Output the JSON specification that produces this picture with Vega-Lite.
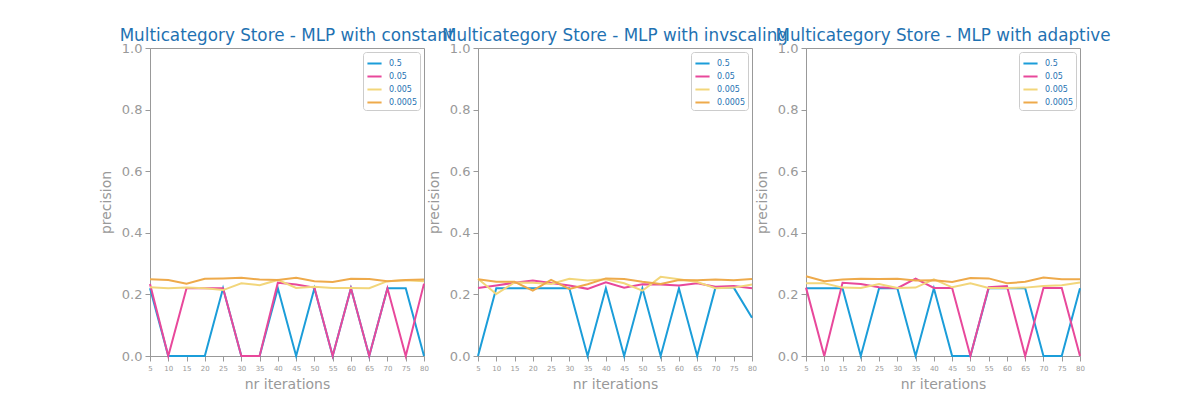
{
  "$schema": "https://vega.github.io/schema/vega-lite/v6.json",
  "padding": {"left": 98, "top": 27, "right": 5, "bottom": 5},
  "datasets": {
    "runs": [
      {"solver": "constant", "lr": "0.5", "iter": 5, "precision": 0.22},
      {"solver": "constant", "lr": "0.5", "iter": 10, "precision": 0.0},
      {"solver": "constant", "lr": "0.5", "iter": 15, "precision": 0.0},
      {"solver": "constant", "lr": "0.5", "iter": 20, "precision": 0.0},
      {"solver": "constant", "lr": "0.5", "iter": 25, "precision": 0.22},
      {"solver": "constant", "lr": "0.5", "iter": 30, "precision": 0.0},
      {"solver": "constant", "lr": "0.5", "iter": 35, "precision": 0.0},
      {"solver": "constant", "lr": "0.5", "iter": 40, "precision": 0.22},
      {"solver": "constant", "lr": "0.5", "iter": 45, "precision": 0.0},
      {"solver": "constant", "lr": "0.5", "iter": 50, "precision": 0.22},
      {"solver": "constant", "lr": "0.5", "iter": 55, "precision": 0.0},
      {"solver": "constant", "lr": "0.5", "iter": 60, "precision": 0.22},
      {"solver": "constant", "lr": "0.5", "iter": 65, "precision": 0.0},
      {"solver": "constant", "lr": "0.5", "iter": 70, "precision": 0.22},
      {"solver": "constant", "lr": "0.5", "iter": 75, "precision": 0.22},
      {"solver": "constant", "lr": "0.5", "iter": 80, "precision": 0.0},
      {"solver": "constant", "lr": "0.05", "iter": 5, "precision": 0.234},
      {"solver": "constant", "lr": "0.05", "iter": 10, "precision": 0.0},
      {"solver": "constant", "lr": "0.05", "iter": 15, "precision": 0.22},
      {"solver": "constant", "lr": "0.05", "iter": 20, "precision": 0.22},
      {"solver": "constant", "lr": "0.05", "iter": 25, "precision": 0.22},
      {"solver": "constant", "lr": "0.05", "iter": 30, "precision": 0.0},
      {"solver": "constant", "lr": "0.05", "iter": 35, "precision": 0.0},
      {"solver": "constant", "lr": "0.05", "iter": 40, "precision": 0.238},
      {"solver": "constant", "lr": "0.05", "iter": 45, "precision": 0.232},
      {"solver": "constant", "lr": "0.05", "iter": 50, "precision": 0.222},
      {"solver": "constant", "lr": "0.05", "iter": 55, "precision": 0.0},
      {"solver": "constant", "lr": "0.05", "iter": 60, "precision": 0.22},
      {"solver": "constant", "lr": "0.05", "iter": 65, "precision": 0.0},
      {"solver": "constant", "lr": "0.05", "iter": 70, "precision": 0.22},
      {"solver": "constant", "lr": "0.05", "iter": 75, "precision": 0.0},
      {"solver": "constant", "lr": "0.05", "iter": 80, "precision": 0.235},
      {"solver": "constant", "lr": "0.005", "iter": 5, "precision": 0.223},
      {"solver": "constant", "lr": "0.005", "iter": 10, "precision": 0.22},
      {"solver": "constant", "lr": "0.005", "iter": 15, "precision": 0.222},
      {"solver": "constant", "lr": "0.005", "iter": 20, "precision": 0.22},
      {"solver": "constant", "lr": "0.005", "iter": 25, "precision": 0.214},
      {"solver": "constant", "lr": "0.005", "iter": 30, "precision": 0.236},
      {"solver": "constant", "lr": "0.005", "iter": 35, "precision": 0.23},
      {"solver": "constant", "lr": "0.005", "iter": 40, "precision": 0.247},
      {"solver": "constant", "lr": "0.005", "iter": 45, "precision": 0.221},
      {"solver": "constant", "lr": "0.005", "iter": 50, "precision": 0.225},
      {"solver": "constant", "lr": "0.005", "iter": 55, "precision": 0.221},
      {"solver": "constant", "lr": "0.005", "iter": 60, "precision": 0.221},
      {"solver": "constant", "lr": "0.005", "iter": 65, "precision": 0.22},
      {"solver": "constant", "lr": "0.005", "iter": 70, "precision": 0.243},
      {"solver": "constant", "lr": "0.005", "iter": 75, "precision": 0.246},
      {"solver": "constant", "lr": "0.005", "iter": 80, "precision": 0.243},
      {"solver": "constant", "lr": "0.0005", "iter": 5, "precision": 0.249},
      {"solver": "constant", "lr": "0.0005", "iter": 10, "precision": 0.247},
      {"solver": "constant", "lr": "0.0005", "iter": 15, "precision": 0.235},
      {"solver": "constant", "lr": "0.0005", "iter": 20, "precision": 0.251},
      {"solver": "constant", "lr": "0.0005", "iter": 25, "precision": 0.252},
      {"solver": "constant", "lr": "0.0005", "iter": 30, "precision": 0.254},
      {"solver": "constant", "lr": "0.0005", "iter": 35, "precision": 0.248},
      {"solver": "constant", "lr": "0.0005", "iter": 40, "precision": 0.247},
      {"solver": "constant", "lr": "0.0005", "iter": 45, "precision": 0.254},
      {"solver": "constant", "lr": "0.0005", "iter": 50, "precision": 0.243},
      {"solver": "constant", "lr": "0.0005", "iter": 55, "precision": 0.24},
      {"solver": "constant", "lr": "0.0005", "iter": 60, "precision": 0.251},
      {"solver": "constant", "lr": "0.0005", "iter": 65, "precision": 0.25},
      {"solver": "constant", "lr": "0.0005", "iter": 70, "precision": 0.243},
      {"solver": "constant", "lr": "0.0005", "iter": 75, "precision": 0.247},
      {"solver": "constant", "lr": "0.0005", "iter": 80, "precision": 0.248},
      {"solver": "invscaling", "lr": "0.5", "iter": 5, "precision": 0.0},
      {"solver": "invscaling", "lr": "0.5", "iter": 10, "precision": 0.22},
      {"solver": "invscaling", "lr": "0.5", "iter": 15, "precision": 0.22},
      {"solver": "invscaling", "lr": "0.5", "iter": 20, "precision": 0.22},
      {"solver": "invscaling", "lr": "0.5", "iter": 25, "precision": 0.22},
      {"solver": "invscaling", "lr": "0.5", "iter": 30, "precision": 0.22},
      {"solver": "invscaling", "lr": "0.5", "iter": 35, "precision": 0.0},
      {"solver": "invscaling", "lr": "0.5", "iter": 40, "precision": 0.22},
      {"solver": "invscaling", "lr": "0.5", "iter": 45, "precision": 0.0},
      {"solver": "invscaling", "lr": "0.5", "iter": 50, "precision": 0.22},
      {"solver": "invscaling", "lr": "0.5", "iter": 55, "precision": 0.0},
      {"solver": "invscaling", "lr": "0.5", "iter": 60, "precision": 0.22},
      {"solver": "invscaling", "lr": "0.5", "iter": 65, "precision": 0.0},
      {"solver": "invscaling", "lr": "0.5", "iter": 70, "precision": 0.222},
      {"solver": "invscaling", "lr": "0.5", "iter": 75, "precision": 0.222},
      {"solver": "invscaling", "lr": "0.5", "iter": 80, "precision": 0.124},
      {"solver": "invscaling", "lr": "0.05", "iter": 5, "precision": 0.221},
      {"solver": "invscaling", "lr": "0.05", "iter": 10, "precision": 0.229},
      {"solver": "invscaling", "lr": "0.05", "iter": 15, "precision": 0.238},
      {"solver": "invscaling", "lr": "0.05", "iter": 20, "precision": 0.245},
      {"solver": "invscaling", "lr": "0.05", "iter": 25, "precision": 0.237},
      {"solver": "invscaling", "lr": "0.05", "iter": 30, "precision": 0.229},
      {"solver": "invscaling", "lr": "0.05", "iter": 35, "precision": 0.218},
      {"solver": "invscaling", "lr": "0.05", "iter": 40, "precision": 0.239},
      {"solver": "invscaling", "lr": "0.05", "iter": 45, "precision": 0.222},
      {"solver": "invscaling", "lr": "0.05", "iter": 50, "precision": 0.233},
      {"solver": "invscaling", "lr": "0.05", "iter": 55, "precision": 0.232},
      {"solver": "invscaling", "lr": "0.05", "iter": 60, "precision": 0.229},
      {"solver": "invscaling", "lr": "0.05", "iter": 65, "precision": 0.236},
      {"solver": "invscaling", "lr": "0.05", "iter": 70, "precision": 0.225},
      {"solver": "invscaling", "lr": "0.05", "iter": 75, "precision": 0.227},
      {"solver": "invscaling", "lr": "0.05", "iter": 80, "precision": 0.22},
      {"solver": "invscaling", "lr": "0.005", "iter": 5, "precision": 0.251},
      {"solver": "invscaling", "lr": "0.005", "iter": 10, "precision": 0.201},
      {"solver": "invscaling", "lr": "0.005", "iter": 15, "precision": 0.239},
      {"solver": "invscaling", "lr": "0.005", "iter": 20, "precision": 0.238},
      {"solver": "invscaling", "lr": "0.005", "iter": 25, "precision": 0.234},
      {"solver": "invscaling", "lr": "0.005", "iter": 30, "precision": 0.251},
      {"solver": "invscaling", "lr": "0.005", "iter": 35, "precision": 0.245},
      {"solver": "invscaling", "lr": "0.005", "iter": 40, "precision": 0.249},
      {"solver": "invscaling", "lr": "0.005", "iter": 45, "precision": 0.236},
      {"solver": "invscaling", "lr": "0.005", "iter": 50, "precision": 0.212},
      {"solver": "invscaling", "lr": "0.005", "iter": 55, "precision": 0.257},
      {"solver": "invscaling", "lr": "0.005", "iter": 60, "precision": 0.249},
      {"solver": "invscaling", "lr": "0.005", "iter": 65, "precision": 0.24},
      {"solver": "invscaling", "lr": "0.005", "iter": 70, "precision": 0.22},
      {"solver": "invscaling", "lr": "0.005", "iter": 75, "precision": 0.222},
      {"solver": "invscaling", "lr": "0.005", "iter": 80, "precision": 0.232},
      {"solver": "invscaling", "lr": "0.0005", "iter": 5, "precision": 0.249},
      {"solver": "invscaling", "lr": "0.0005", "iter": 10, "precision": 0.241},
      {"solver": "invscaling", "lr": "0.0005", "iter": 15, "precision": 0.241},
      {"solver": "invscaling", "lr": "0.0005", "iter": 20, "precision": 0.212},
      {"solver": "invscaling", "lr": "0.0005", "iter": 25, "precision": 0.247},
      {"solver": "invscaling", "lr": "0.0005", "iter": 30, "precision": 0.218},
      {"solver": "invscaling", "lr": "0.0005", "iter": 35, "precision": 0.233},
      {"solver": "invscaling", "lr": "0.0005", "iter": 40, "precision": 0.252},
      {"solver": "invscaling", "lr": "0.0005", "iter": 45, "precision": 0.25},
      {"solver": "invscaling", "lr": "0.0005", "iter": 50, "precision": 0.241},
      {"solver": "invscaling", "lr": "0.0005", "iter": 55, "precision": 0.234},
      {"solver": "invscaling", "lr": "0.0005", "iter": 60, "precision": 0.247},
      {"solver": "invscaling", "lr": "0.0005", "iter": 65, "precision": 0.246},
      {"solver": "invscaling", "lr": "0.0005", "iter": 70, "precision": 0.248},
      {"solver": "invscaling", "lr": "0.0005", "iter": 75, "precision": 0.246},
      {"solver": "invscaling", "lr": "0.0005", "iter": 80, "precision": 0.25},
      {"solver": "adaptive", "lr": "0.5", "iter": 5, "precision": 0.22},
      {"solver": "adaptive", "lr": "0.5", "iter": 10, "precision": 0.22},
      {"solver": "adaptive", "lr": "0.5", "iter": 15, "precision": 0.22},
      {"solver": "adaptive", "lr": "0.5", "iter": 20, "precision": 0.0},
      {"solver": "adaptive", "lr": "0.5", "iter": 25, "precision": 0.22},
      {"solver": "adaptive", "lr": "0.5", "iter": 30, "precision": 0.22},
      {"solver": "adaptive", "lr": "0.5", "iter": 35, "precision": 0.0},
      {"solver": "adaptive", "lr": "0.5", "iter": 40, "precision": 0.22},
      {"solver": "adaptive", "lr": "0.5", "iter": 45, "precision": 0.0},
      {"solver": "adaptive", "lr": "0.5", "iter": 50, "precision": 0.0},
      {"solver": "adaptive", "lr": "0.5", "iter": 55, "precision": 0.22},
      {"solver": "adaptive", "lr": "0.5", "iter": 60, "precision": 0.22},
      {"solver": "adaptive", "lr": "0.5", "iter": 65, "precision": 0.22},
      {"solver": "adaptive", "lr": "0.5", "iter": 70, "precision": 0.0},
      {"solver": "adaptive", "lr": "0.5", "iter": 75, "precision": 0.0},
      {"solver": "adaptive", "lr": "0.5", "iter": 80, "precision": 0.22},
      {"solver": "adaptive", "lr": "0.05", "iter": 5, "precision": 0.222},
      {"solver": "adaptive", "lr": "0.05", "iter": 10, "precision": 0.0},
      {"solver": "adaptive", "lr": "0.05", "iter": 15, "precision": 0.238},
      {"solver": "adaptive", "lr": "0.05", "iter": 20, "precision": 0.234},
      {"solver": "adaptive", "lr": "0.05", "iter": 25, "precision": 0.223},
      {"solver": "adaptive", "lr": "0.05", "iter": 30, "precision": 0.22},
      {"solver": "adaptive", "lr": "0.05", "iter": 35, "precision": 0.251},
      {"solver": "adaptive", "lr": "0.05", "iter": 40, "precision": 0.221},
      {"solver": "adaptive", "lr": "0.05", "iter": 45, "precision": 0.221},
      {"solver": "adaptive", "lr": "0.05", "iter": 50, "precision": 0.0},
      {"solver": "adaptive", "lr": "0.05", "iter": 55, "precision": 0.223},
      {"solver": "adaptive", "lr": "0.05", "iter": 60, "precision": 0.227},
      {"solver": "adaptive", "lr": "0.05", "iter": 65, "precision": 0.0},
      {"solver": "adaptive", "lr": "0.05", "iter": 70, "precision": 0.221},
      {"solver": "adaptive", "lr": "0.05", "iter": 75, "precision": 0.221},
      {"solver": "adaptive", "lr": "0.05", "iter": 80, "precision": 0.0},
      {"solver": "adaptive", "lr": "0.005", "iter": 5, "precision": 0.236},
      {"solver": "adaptive", "lr": "0.005", "iter": 10, "precision": 0.236},
      {"solver": "adaptive", "lr": "0.005", "iter": 15, "precision": 0.222},
      {"solver": "adaptive", "lr": "0.005", "iter": 20, "precision": 0.221},
      {"solver": "adaptive", "lr": "0.005", "iter": 25, "precision": 0.234},
      {"solver": "adaptive", "lr": "0.005", "iter": 30, "precision": 0.221},
      {"solver": "adaptive", "lr": "0.005", "iter": 35, "precision": 0.222},
      {"solver": "adaptive", "lr": "0.005", "iter": 40, "precision": 0.249},
      {"solver": "adaptive", "lr": "0.005", "iter": 45, "precision": 0.223},
      {"solver": "adaptive", "lr": "0.005", "iter": 50, "precision": 0.236},
      {"solver": "adaptive", "lr": "0.005", "iter": 55, "precision": 0.221},
      {"solver": "adaptive", "lr": "0.005", "iter": 60, "precision": 0.221},
      {"solver": "adaptive", "lr": "0.005", "iter": 65, "precision": 0.222},
      {"solver": "adaptive", "lr": "0.005", "iter": 70, "precision": 0.227},
      {"solver": "adaptive", "lr": "0.005", "iter": 75, "precision": 0.23},
      {"solver": "adaptive", "lr": "0.005", "iter": 80, "precision": 0.239},
      {"solver": "adaptive", "lr": "0.0005", "iter": 5, "precision": 0.259},
      {"solver": "adaptive", "lr": "0.0005", "iter": 10, "precision": 0.243},
      {"solver": "adaptive", "lr": "0.0005", "iter": 15, "precision": 0.248},
      {"solver": "adaptive", "lr": "0.0005", "iter": 20, "precision": 0.251},
      {"solver": "adaptive", "lr": "0.0005", "iter": 25, "precision": 0.25},
      {"solver": "adaptive", "lr": "0.0005", "iter": 30, "precision": 0.251},
      {"solver": "adaptive", "lr": "0.0005", "iter": 35, "precision": 0.245},
      {"solver": "adaptive", "lr": "0.0005", "iter": 40, "precision": 0.246},
      {"solver": "adaptive", "lr": "0.0005", "iter": 45, "precision": 0.24},
      {"solver": "adaptive", "lr": "0.0005", "iter": 50, "precision": 0.253},
      {"solver": "adaptive", "lr": "0.0005", "iter": 55, "precision": 0.252},
      {"solver": "adaptive", "lr": "0.0005", "iter": 60, "precision": 0.236},
      {"solver": "adaptive", "lr": "0.0005", "iter": 65, "precision": 0.241},
      {"solver": "adaptive", "lr": "0.0005", "iter": 70, "precision": 0.255},
      {"solver": "adaptive", "lr": "0.0005", "iter": 75, "precision": 0.249},
      {"solver": "adaptive", "lr": "0.0005", "iter": 80, "precision": 0.249}
    ]
  },
  "data": {"name": "runs"},
  "spacing": 54,
  "bounds": "flush",
  "hconcat": [
    {
      "title": "Multicategory Store - MLP with constant",
      "width": 274,
      "height": 308,
      "transform": [{"filter": "datum.solver == 'constant'"}],
      "mark": {"type": "line", "strokeWidth": 2},
      "encoding": {
        "x": {"field": "iter", "type": "quantitative", "title": "nr iterations", "scale": {"domain": [5, 80], "nice": false}, "axis": {"values": [5, 10, 15, 20, 25, 30, 35, 40, 45, 50, 55, 60, 65, 70, 75, 80]}},
        "y": {"field": "precision", "type": "quantitative", "title": "precision", "scale": {"domain": [0, 1], "nice": false}, "axis": {"values": [0, 0.2, 0.4, 0.6, 0.8, 1.0], "format": ".1f"}},
        "color": {"field": "lr", "type": "nominal", "title": null, "sort": ["0.5", "0.05", "0.005", "0.0005"], "scale": {"domain": ["0.5", "0.05", "0.005", "0.0005"], "range": ["#1b9dd9", "#e8489b", "#f2d67b", "#eeaa4b"]}}
      }
    },
    {
      "title": "Multicategory Store - MLP with invscaling",
      "width": 274,
      "height": 308,
      "transform": [{"filter": "datum.solver == 'invscaling'"}],
      "mark": {"type": "line", "strokeWidth": 2},
      "encoding": {
        "x": {"field": "iter", "type": "quantitative", "title": "nr iterations", "scale": {"domain": [5, 80], "nice": false}, "axis": {"values": [5, 10, 15, 20, 25, 30, 35, 40, 45, 50, 55, 60, 65, 70, 75, 80]}},
        "y": {"field": "precision", "type": "quantitative", "title": "precision", "scale": {"domain": [0, 1], "nice": false}, "axis": {"values": [0, 0.2, 0.4, 0.6, 0.8, 1.0], "format": ".1f"}},
        "color": {"field": "lr", "type": "nominal", "title": null, "sort": ["0.5", "0.05", "0.005", "0.0005"], "scale": {"domain": ["0.5", "0.05", "0.005", "0.0005"], "range": ["#1b9dd9", "#e8489b", "#f2d67b", "#eeaa4b"]}}
      }
    },
    {
      "title": "Multicategory Store - MLP with adaptive",
      "width": 274,
      "height": 308,
      "transform": [{"filter": "datum.solver == 'adaptive'"}],
      "mark": {"type": "line", "strokeWidth": 2},
      "encoding": {
        "x": {"field": "iter", "type": "quantitative", "title": "nr iterations", "scale": {"domain": [5, 80], "nice": false}, "axis": {"values": [5, 10, 15, 20, 25, 30, 35, 40, 45, 50, 55, 60, 65, 70, 75, 80]}},
        "y": {"field": "precision", "type": "quantitative", "title": "precision", "scale": {"domain": [0, 1], "nice": false}, "axis": {"values": [0, 0.2, 0.4, 0.6, 0.8, 1.0], "format": ".1f"}},
        "color": {"field": "lr", "type": "nominal", "title": null, "sort": ["0.5", "0.05", "0.005", "0.0005"], "scale": {"domain": ["0.5", "0.05", "0.005", "0.0005"], "range": ["#1b9dd9", "#e8489b", "#f2d67b", "#eeaa4b"]}}
      }
    }
  ],
  "resolve": {"axis": {"y": "independent", "x": "independent"}, "legend": {"color": "independent"}},
  "config": {
    "font": "DejaVu Sans",
    "view": {"stroke": "#999999", "strokeWidth": 1},
    "title": {"fontSize": 16.8, "fontWeight": "normal", "color": "#1f72b2", "font": "DejaVu Sans", "offset": -3, "limit": 0},
    "axis": {
      "grid": false,
      "domainColor": "#999999",
      "tickColor": "#999999",
      "tickSize": 5,
      "labelColor": "#999999",
      "titleColor": "#999999",
      "titleFontSize": 14,
      "titleFontWeight": "normal",
      "labelFont": "DejaVu Sans",
      "titleFont": "DejaVu Sans"
    },
    "axisY": {"labelFontSize": 13, "titlePadding": 8, "labelPadding": 3},
    "axisX": {"labelFontSize": 7, "titlePadding": 6, "labelPadding": 3, "labelFlush": false, "labelOverlap": false},
    "legend": {
      "orient": "top-right",
      "offset": 4,
      "strokeColor": "#cccccc",
      "cornerRadius": 3,
      "padding": 3,
      "fillColor": "white",
      "labelFontSize": 8,
      "labelColor": "#1f72b2",
      "labelFont": "DejaVu Sans",
      "symbolType": "stroke",
      "symbolSize": 200,
      "symbolStrokeWidth": 2,
      "rowPadding": 0,
      "labelOffset": 6
    }
  }
}
